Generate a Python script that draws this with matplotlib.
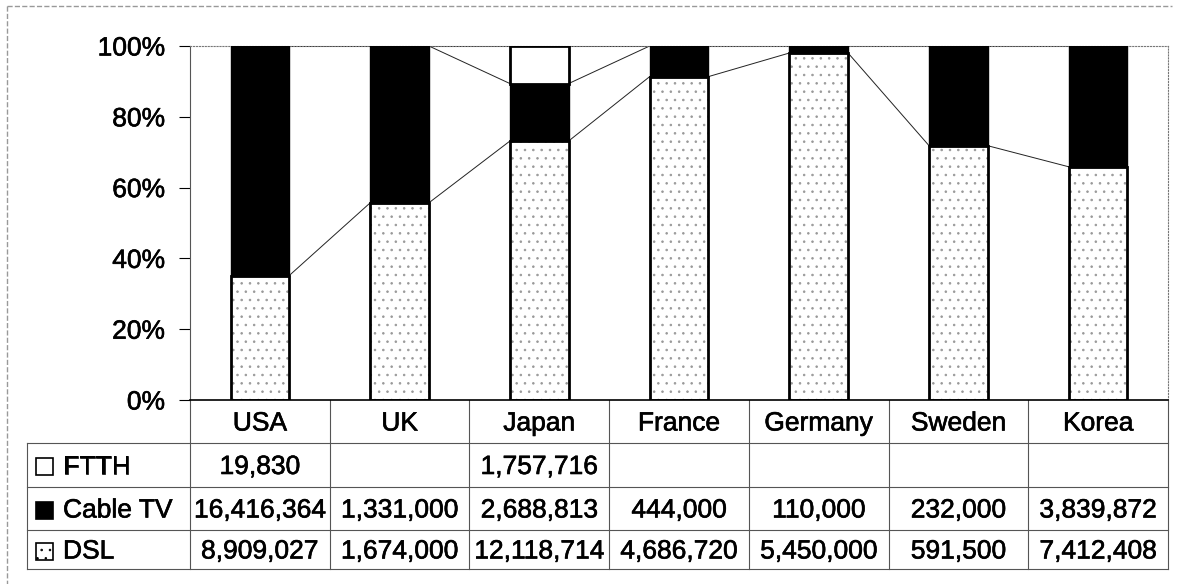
import numpy as np
import matplotlib.pyplot as plt
import matplotlib.patheffects as pe
from matplotlib.patches import Rectangle

plt.rcParams['font.family'] = ['Liberation Sans', 'DejaVu Sans']
plt.rcParams['hatch.linewidth'] = 0.6

countries = ['USA', 'UK', 'Japan', 'France', 'Germany', 'Sweden', 'Korea']
ftth = [19830, 0, 1757716, 0, 0, 0, 0]
cable = [16416364, 1331000, 2688813, 444000, 110000, 232000, 3839872]
dsl = [8909027, 1674000, 12118714, 4686720, 5450000, 591500, 7412408]
ftth_labels = ['19,830', '', '1,757,716', '', '', '', '']

ftth = np.array(ftth, float)
cable = np.array(cable, float)
dsl = np.array(dsl, float)
total = ftth + cable + dsl
p_dsl = 100 * dsl / total
p_cab = 100 * cable / total
p_ftth = 100 * ftth / total

W, H = 1177, 584
fig = plt.figure(figsize=(W / 100, H / 100), dpi=100)
x0, x1, ytop, ybot = 190, 1168, 46, 400
ax = fig.add_axes([x0 / W, 1 - ybot / H, (x1 - x0) / W, (ybot - ytop) / H])

x = np.arange(len(countries))
bw = 0.42
fs = 19
heavy = [pe.withStroke(linewidth=0.45, foreground='black')]

# DSL: light stipple, then a heavy outline on top
ax.bar(x, p_dsl, bw, color='white', edgecolor='#999999', hatch='..', lw=0, zorder=2)
ax.bar(x, p_dsl, bw, color='none', edgecolor='black', lw=2, zorder=3)
ax.bar(x, p_cab, bw, bottom=p_dsl, color='black', edgecolor='black', lw=1, zorder=3)
ax.bar(x, p_ftth, bw, bottom=p_dsl + p_cab, color='white', edgecolor='black', lw=2, zorder=3)

# series lines between neighbouring bars
for tops in (p_dsl, p_dsl + p_cab, p_dsl + p_cab + p_ftth):
    for i in range(len(x) - 1):
        ax.plot([x[i] + bw / 2, x[i + 1] - bw / 2], [tops[i], tops[i + 1]],
                color='#222222', lw=0.7, zorder=1)

ax.set_xlim(-0.5, len(x) - 0.5)
ax.set_ylim(0, 100)
ax.set_yticks(np.arange(0, 101, 20))
ax.set_yticklabels(['%d%%' % v for v in np.arange(0, 101, 20)], fontsize=fs)
for t in ax.get_yticklabels():
    t.set_path_effects(heavy)
ax.tick_params(axis='y', length=8, width=0.8, pad=10)
ax.set_xticks([])
for s in ('top', 'right'):
    ax.spines[s].set_linestyle(':')
    ax.spines[s].set_color('#777777')
ax.spines['left'].set_color('#555555')
ax.spines['bottom'].set_linewidth(1.2)

# data table under the plot, in pixel coordinates
tab = fig.add_axes([0, 0, 1, 1], zorder=-1)
tab.set_xlim(0, W)
tab.set_ylim(H, 0)
tab.axis('off')
colw = (x1 - x0) / len(countries)
rows = [400, 443, 487, 530, 569]
tl = 27
gc = '#555555'
for y in rows[1:]:
    tab.plot([tl, x1], [y, y], color=gc, lw=0.8)
tab.plot([tl, tl], [rows[1], rows[-1]], color=gc, lw=0.8)
for i in range(len(countries) + 1):
    xx = x0 + i * colw
    tab.plot([xx, xx], [rows[0], rows[-1]], color=gc, lw=0.8)


def cell(xc, yc, s, ha='center'):
    tab.text(xc, yc, s, ha=ha, va='center', fontsize=fs, path_effects=heavy)


for i, c in enumerate(countries):
    cx = x0 + (i + 0.5) * colw
    cell(cx, (rows[0] + rows[1]) / 2 + 2, c)
    cell(cx, (rows[1] + rows[2]) / 2 + 2, ftth_labels[i])
    cell(cx, (rows[2] + rows[3]) / 2 + 2, '{:,}'.format(int(cable[i])))
    cell(cx, (rows[3] + rows[4]) / 2 + 2, '{:,}'.format(int(dsl[i])))

legend = [('FTTH', 'white', None), ('Cable TV', 'black', None), ('DSL', 'white', '..')]
for k, (name, fc, ht) in enumerate(legend):
    yc = (rows[k + 1] + rows[k + 2]) / 2 + 1
    tab.add_patch(Rectangle((36, yc - 8), 17, 17, facecolor=fc, edgecolor='black', lw=1.2, hatch=ht))
    cell(63, yc + 1, name, ha='left')

# outer chart border
tab.plot([7, 1172], [6, 6], color='#999999', lw=1, ls='--')
tab.plot([7, 7], [6, 584], color='#999999', lw=1, ls='--')

fig.savefig('out.png', dpi=100)
